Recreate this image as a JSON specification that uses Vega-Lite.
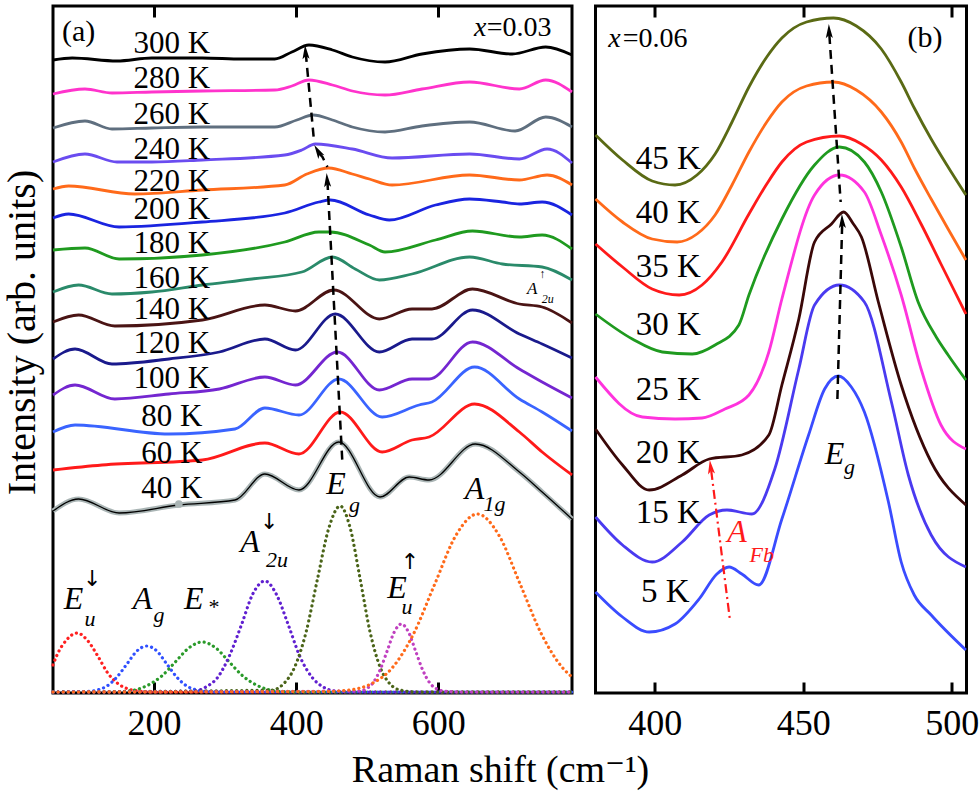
{
  "$schema": "https://vega.github.io/schema/vega-lite/v6.json",
  "background": "white",
  "padding": {"left": 0, "top": 3, "right": 0, "bottom": 0},
  "spacing": 23.5,
  "bounds": "flush",
  "config": {
    "font": "Liberation Serif, Times New Roman, DejaVu Serif, serif",
    "view": {"stroke": "black", "strokeWidth": 3},
    "axis": {"grid": false, "domain": false},
    "axisX": {"tickSize": -11, "tickWidth": 3, "tickColor": "black", "labelFontSize": 36, "labelColor": "black", "labelPadding": 24, "titleFontSize": 38, "titleFontWeight": "normal", "titleColor": "black", "titlePadding": 10, "labelFont": "Liberation Serif, Times New Roman, DejaVu Serif, serif", "titleFont": "Liberation Serif, Times New Roman, DejaVu Serif, serif"},
    "axisY": {"labels": false, "ticks": false, "titleFontSize": 40, "titleFontWeight": "normal", "titleColor": "black", "titlePadding": 11, "titleFont": "Liberation Serif, Times New Roman, DejaVu Serif, serif"},
    "text": {"font": "Liberation Serif, Times New Roman, DejaVu Serif, serif", "color": "black"}
  },
  "datasets": {
    "ac": [
      {"T":"300 K","x":58,"I":633},{"T":"300 K","x":85,"I":635},{"T":"300 K","x":148,"I":632},{"T":"300 K","x":197,"I":635},{"T":"300 K","x":268,"I":635},{"T":"300 K","x":324,"I":634},{"T":"300 K","x":370,"I":634},{"T":"300 K","x":394,"I":641},{"T":"300 K","x":418,"I":648},{"T":"300 K","x":451,"I":643},{"T":"300 K","x":479,"I":636},{"T":"300 K","x":525,"I":631},{"T":"300 K","x":577,"I":639},{"T":"300 K","x":644,"I":644},{"T":"300 K","x":704,"I":639},{"T":"300 K","x":751,"I":646},{"T":"300 K","x":788,"I":638},
      {"T":"280 K","x":58,"I":599},{"T":"280 K","x":103,"I":604},{"T":"280 K","x":141,"I":600},{"T":"280 K","x":197,"I":601},{"T":"280 K","x":268,"I":602},{"T":"280 K","x":370,"I":603},{"T":"280 K","x":394,"I":607},{"T":"280 K","x":418,"I":613},{"T":"280 K","x":451,"I":608},{"T":"280 K","x":479,"I":602},{"T":"280 K","x":525,"I":598},{"T":"280 K","x":577,"I":604},{"T":"280 K","x":644,"I":611},{"T":"280 K","x":714,"I":604},{"T":"280 K","x":751,"I":613},{"T":"280 K","x":788,"I":601},
      {"T":"260 K","x":58,"I":565},{"T":"260 K","x":103,"I":572},{"T":"260 K","x":141,"I":564},{"T":"260 K","x":197,"I":565},{"T":"260 K","x":268,"I":566},{"T":"260 K","x":370,"I":566},{"T":"260 K","x":401,"I":573},{"T":"260 K","x":424,"I":578},{"T":"260 K","x":451,"I":573},{"T":"260 K","x":479,"I":566},{"T":"260 K","x":525,"I":561},{"T":"260 K","x":577,"I":567},{"T":"260 K","x":644,"I":571},{"T":"260 K","x":708,"I":562},{"T":"260 K","x":751,"I":576},{"T":"260 K","x":788,"I":566},
      {"T":"240 K","x":58,"I":531},{"T":"240 K","x":103,"I":539},{"T":"240 K","x":148,"I":531},{"T":"240 K","x":197,"I":531},{"T":"240 K","x":268,"I":533},{"T":"240 K","x":384,"I":538},{"T":"240 K","x":408,"I":543},{"T":"240 K","x":427,"I":549},{"T":"240 K","x":479,"I":544},{"T":"240 K","x":535,"I":535},{"T":"240 K","x":644,"I":539},{"T":"240 K","x":714,"I":534},{"T":"240 K","x":753,"I":544},{"T":"240 K","x":788,"I":530},
      {"T":"220 K","x":58,"I":504},{"T":"220 K","x":80,"I":507},{"T":"220 K","x":173,"I":499},{"T":"220 K","x":268,"I":503},{"T":"220 K","x":384,"I":508},{"T":"220 K","x":415,"I":519},{"T":"220 K","x":446,"I":525},{"T":"220 K","x":479,"I":519},{"T":"220 K","x":503,"I":514},{"T":"220 K","x":535,"I":508},{"T":"220 K","x":644,"I":518},{"T":"220 K","x":714,"I":513},{"T":"220 K","x":753,"I":518},{"T":"220 K","x":788,"I":508},
      {"T":"200 K","x":58,"I":475},{"T":"200 K","x":80,"I":479},{"T":"200 K","x":151,"I":466},{"T":"200 K","x":268,"I":471},{"T":"200 K","x":384,"I":480},{"T":"200 K","x":432,"I":491},{"T":"200 K","x":448,"I":493},{"T":"200 K","x":503,"I":478},{"T":"200 K","x":531,"I":473},{"T":"200 K","x":596,"I":488},{"T":"200 K","x":644,"I":494},{"T":"200 K","x":690,"I":491},{"T":"200 K","x":714,"I":489},{"T":"200 K","x":746,"I":491},{"T":"200 K","x":788,"I":478},
      {"T":"180 K","x":58,"I":443},{"T":"180 K","x":103,"I":445},{"T":"180 K","x":151,"I":434},{"T":"180 K","x":268,"I":438},{"T":"180 K","x":384,"I":451},{"T":"180 K","x":432,"I":461},{"T":"180 K","x":448,"I":461},{"T":"180 K","x":503,"I":448},{"T":"180 K","x":525,"I":441},{"T":"180 K","x":596,"I":453},{"T":"180 K","x":648,"I":462},{"T":"180 K","x":714,"I":456},{"T":"180 K","x":746,"I":458},{"T":"180 K","x":788,"I":444},
      {"T":"160 K","x":58,"I":401},{"T":"160 K","x":94,"I":408},{"T":"160 K","x":141,"I":399},{"T":"160 K","x":197,"I":401},{"T":"160 K","x":268,"I":408},{"T":"160 K","x":338,"I":414},{"T":"160 K","x":408,"I":421},{"T":"160 K","x":451,"I":436},{"T":"160 K","x":483,"I":424},{"T":"160 K","x":517,"I":413},{"T":"160 K","x":563,"I":419},{"T":"160 K","x":644,"I":436},{"T":"160 K","x":690,"I":429},{"T":"160 K","x":746,"I":426},{"T":"160 K","x":788,"I":413},
      {"T":"140 K","x":58,"I":371},{"T":"140 K","x":94,"I":378},{"T":"140 K","x":145,"I":367},{"T":"140 K","x":268,"I":373},{"T":"140 K","x":356,"I":388},{"T":"140 K","x":399,"I":382},{"T":"140 K","x":453,"I":403},{"T":"140 K","x":517,"I":374},{"T":"140 K","x":563,"I":384},{"T":"140 K","x":591,"I":384},{"T":"140 K","x":648,"I":404},{"T":"140 K","x":714,"I":389},{"T":"140 K","x":746,"I":386},{"T":"140 K","x":788,"I":370},
      {"T":"120 K","x":58,"I":334},{"T":"120 K","x":89,"I":344},{"T":"120 K","x":141,"I":329},{"T":"120 K","x":221,"I":334},{"T":"120 K","x":292,"I":341},{"T":"120 K","x":356,"I":354},{"T":"120 K","x":399,"I":343},{"T":"120 K","x":455,"I":379},{"T":"120 K","x":517,"I":341},{"T":"120 K","x":563,"I":354},{"T":"120 K","x":591,"I":354},{"T":"120 K","x":648,"I":383},{"T":"120 K","x":714,"I":359},{"T":"120 K","x":746,"I":349},{"T":"120 K","x":788,"I":335},
      {"T":"100 K","x":58,"I":298},{"T":"100 K","x":89,"I":308},{"T":"100 K","x":145,"I":294},{"T":"100 K","x":221,"I":299},{"T":"100 K","x":292,"I":304},{"T":"100 K","x":356,"I":316},{"T":"100 K","x":399,"I":308},{"T":"100 K","x":458,"I":341},{"T":"100 K","x":517,"I":303},{"T":"100 K","x":563,"I":314},{"T":"100 K","x":587,"I":314},{"T":"100 K","x":648,"I":351},{"T":"100 K","x":714,"I":324},{"T":"100 K","x":746,"I":311},{"T":"100 K","x":788,"I":295},
      {"T":"80 K","x":58,"I":261},{"T":"80 K","x":89,"I":268},{"T":"80 K","x":221,"I":259},{"T":"80 K","x":314,"I":264},{"T":"80 K","x":356,"I":285},{"T":"80 K","x":404,"I":278},{"T":"80 K","x":460,"I":314},{"T":"80 K","x":521,"I":276},{"T":"80 K","x":573,"I":288},{"T":"80 K","x":591,"I":291},{"T":"80 K","x":651,"I":326},{"T":"80 K","x":714,"I":294},{"T":"80 K","x":746,"I":281},{"T":"80 K","x":788,"I":262},
      {"T":"60 K","x":58,"I":223},{"T":"60 K","x":127,"I":228},{"T":"60 K","x":268,"I":233},{"T":"60 K","x":356,"I":250},{"T":"60 K","x":404,"I":239},{"T":"60 K","x":462,"I":281},{"T":"60 K","x":521,"I":241},{"T":"60 K","x":563,"I":253},{"T":"60 K","x":587,"I":256},{"T":"60 K","x":651,"I":289},{"T":"60 K","x":714,"I":261},{"T":"60 K","x":746,"I":241},{"T":"60 K","x":788,"I":218},
      {"T":"40 K","x":58,"I":182},{"T":"40 K","x":94,"I":194},{"T":"40 K","x":151,"I":180},{"T":"40 K","x":235,"I":188},{"T":"40 K","x":314,"I":193},{"T":"40 K","x":356,"I":219},{"T":"40 K","x":404,"I":203},{"T":"40 K","x":460,"I":251},{"T":"40 K","x":518,"I":196},{"T":"40 K","x":559,"I":216},{"T":"40 K","x":587,"I":213},{"T":"40 K","x":652,"I":249},{"T":"40 K","x":714,"I":221},{"T":"40 K","x":746,"I":201},{"T":"40 K","x":788,"I":174}
    ],
    "am": [
      {"m":"Eu_dn","x":58,"I":28},{"m":"Eu_dn","x":63,"I":37},{"m":"Eu_dn","x":77,"I":53},{"m":"Eu_dn","x":92,"I":60},{"m":"Eu_dn","x":106,"I":53},{"m":"Eu_dn","x":121,"I":37},{"m":"Eu_dn","x":135,"I":20},{"m":"Eu_dn","x":150,"I":9},{"m":"Eu_dn","x":164,"I":4},{"m":"Eu_dn","x":179,"I":2},{"m":"Eu_dn","x":200,"I":1},{"m":"Eu_dn","x":788,"I":1},
      {"m":"Ag","x":58,"I":1},{"m":"Ag","x":106,"I":1.5},{"m":"Ag","x":120,"I":3},{"m":"Ag","x":134,"I":7},{"m":"Ag","x":148,"I":16},{"m":"Ag","x":162,"I":29},{"m":"Ag","x":176,"I":42},{"m":"Ag","x":190,"I":47},{"m":"Ag","x":204,"I":42},{"m":"Ag","x":218,"I":29},{"m":"Ag","x":232,"I":16},{"m":"Ag","x":246,"I":7},{"m":"Ag","x":260,"I":3},{"m":"Ag","x":274,"I":1.5},{"m":"Ag","x":300,"I":1},{"m":"Ag","x":788,"I":1},
      {"m":"Es","x":58,"I":1},{"m":"Es","x":154,"I":1.5},{"m":"Es","x":173,"I":3},{"m":"Es","x":192,"I":8},{"m":"Es","x":211,"I":17},{"m":"Es","x":230,"I":31},{"m":"Es","x":249,"I":45},{"m":"Es","x":268,"I":51},{"m":"Es","x":287,"I":45},{"m":"Es","x":306,"I":31},{"m":"Es","x":325,"I":17},{"m":"Es","x":344,"I":8},{"m":"Es","x":363,"I":3},{"m":"Es","x":382,"I":1.5},{"m":"Es","x":410,"I":1},{"m":"Es","x":788,"I":1},
      {"m":"A2u","x":58,"I":1},{"m":"A2u","x":257,"I":2},{"m":"A2u","x":273,"I":6},{"m":"A2u","x":290,"I":16},{"m":"A2u","x":306,"I":37},{"m":"A2u","x":323,"I":68},{"m":"A2u","x":339,"I":99},{"m":"A2u","x":356,"I":112},{"m":"A2u","x":372,"I":99},{"m":"A2u","x":389,"I":68},{"m":"A2u","x":405,"I":37},{"m":"A2u","x":422,"I":16},{"m":"A2u","x":438,"I":6},{"m":"A2u","x":455,"I":2},{"m":"A2u","x":480,"I":1},{"m":"A2u","x":788,"I":1},
      {"m":"Eg","x":58,"I":1},{"m":"Eg","x":366,"I":3},{"m":"Eg","x":382,"I":9},{"m":"Eg","x":398,"I":26},{"m":"Eg","x":414,"I":61},{"m":"Eg","x":430,"I":114},{"m":"Eg","x":446,"I":165},{"m":"Eg","x":462,"I":187},{"m":"Eg","x":476,"I":165},{"m":"Eg","x":490,"I":114},{"m":"Eg","x":504,"I":61},{"m":"Eg","x":518,"I":26},{"m":"Eg","x":532,"I":9},{"m":"Eg","x":546,"I":3},{"m":"Eg","x":570,"I":1},{"m":"Eg","x":788,"I":1},
      {"m":"Eu_up","x":58,"I":1},{"m":"Eu_up","x":488,"I":2},{"m":"Eu_up","x":498,"I":4},{"m":"Eu_up","x":508,"I":10},{"m":"Eu_up","x":518,"I":23},{"m":"Eu_up","x":528,"I":42},{"m":"Eu_up","x":538,"I":61},{"m":"Eu_up","x":548,"I":69},{"m":"Eu_up","x":558,"I":61},{"m":"Eu_up","x":568,"I":42},{"m":"Eu_up","x":578,"I":23},{"m":"Eu_up","x":588,"I":10},{"m":"Eu_up","x":598,"I":4},{"m":"Eu_up","x":608,"I":2},{"m":"Eu_up","x":630,"I":1},{"m":"Eu_up","x":788,"I":1},
      {"m":"A1g","x":58,"I":1},{"m":"A1g","x":440,"I":1.5},{"m":"A1g","x":475,"I":3},{"m":"A1g","x":505,"I":9},{"m":"A1g","x":535,"I":25},{"m":"A1g","x":565,"I":59},{"m":"A1g","x":595,"I":109},{"m":"A1g","x":625,"I":158},{"m":"A1g","x":655,"I":179},{"m":"A1g","x":685,"I":158},{"m":"A1g","x":715,"I":109},{"m":"A1g","x":745,"I":59},{"m":"A1g","x":775,"I":25},{"m":"A1g","x":788,"I":16}
    ],
    "aa": [
      {"s":"1","x":465,"I":231},{"s":"1","x":444,"I":512},
      {"s":"2","x":444,"I":526},{"s":"2","x":437,"I":536},{"s":"2","x":432,"I":540},
      {"s":"3","x":425,"I":553},{"s":"3","x":413.5,"I":640}
    ],
    "aah": [
      {"s":"1","x":443.6,"I":513},{"s":"2","x":430.5,"I":542},{"s":"3","x":413.2,"I":641}
    ],
    "at": [
      {"t":"300 K","x":225,"I":649},{"t":"280 K","x":225,"I":614},{"t":"260 K","x":225,"I":578},{"t":"240 K","x":225,"I":543},{"t":"220 K","x":225,"I":511},{"t":"200 K","x":225,"I":483},{"t":"180 K","x":225,"I":449},{"t":"160 K","x":225,"I":414},{"t":"140 K","x":225,"I":383},{"t":"120 K","x":225,"I":349},{"t":"100 K","x":225,"I":314},{"t":"80 K","x":225,"I":276},{"t":"60 K","x":225,"I":239},{"t":"40 K","x":225,"I":204}
    ],
    "abig": [
      {"t":"E","x":87,"I":94},{"t":"A","x":184,"I":94},{"t":"E","x":256,"I":94},{"t":"A","x":335,"I":151},{"t":"E","x":456,"I":209},{"t":"A","x":651,"I":204},{"t":"E","x":542,"I":105}
    ],
    "asub": [
      {"t":"u","x":110,"I":74},{"t":"g","x":207,"I":78},{"t":"*","x":283,"I":86},{"t":"2u","x":373,"I":133},{"t":"g","x":482,"I":188},{"t":"1g","x":679,"I":189},{"t":"u","x":556,"I":86}
    ],
    "aarr": [
      {"t":"↓","x":113,"I":114},{"t":"↓","x":362,"I":171},{"t":"↑","x":560,"I":131}
    ],
    "bc": [
      {"K":"45 K","x":380,"I":558},{"K":"45 K","x":389.1,"I":533},{"K":"45 K","x":399.1,"I":512},{"K":"45 K","x":406.8,"I":508},{"K":"45 K","x":414.2,"I":518},{"K":"45 K","x":420.3,"I":539},{"K":"45 K","x":426,"I":571},{"K":"45 K","x":431.7,"I":606},{"K":"45 K","x":437.7,"I":636},{"K":"45 K","x":442.8,"I":655},{"K":"45 K","x":451.1,"I":671},{"K":"45 K","x":460.2,"I":675},{"K":"45 K","x":467.9,"I":667},{"K":"45 K","x":476.3,"I":644},{"K":"45 K","x":483,"I":611},{"K":"45 K","x":487.4,"I":585},{"K":"45 K","x":493.1,"I":554},{"K":"45 K","x":498.8,"I":526},{"K":"45 K","x":504.8,"I":498},
      {"K":"40 K","x":380,"I":494},{"K":"40 K","x":389.1,"I":471},{"K":"40 K","x":399.1,"I":454},{"K":"40 K","x":407.5,"I":451},{"K":"40 K","x":414.2,"I":459},{"K":"40 K","x":420.3,"I":478},{"K":"40 K","x":426,"I":508},{"K":"40 K","x":431.7,"I":541},{"K":"40 K","x":437.7,"I":571},{"K":"40 K","x":442.8,"I":591},{"K":"40 K","x":451.1,"I":607},{"K":"40 K","x":460.2,"I":611},{"K":"40 K","x":467.9,"I":603},{"K":"40 K","x":476.3,"I":581},{"K":"40 K","x":483,"I":551},{"K":"40 K","x":487.4,"I":525},{"K":"40 K","x":493.1,"I":494},{"K":"40 K","x":498.8,"I":464},{"K":"40 K","x":504.8,"I":433},
      {"K":"35 K","x":380,"I":449},{"K":"35 K","x":389.1,"I":426},{"K":"35 K","x":399.1,"I":404},{"K":"35 K","x":408.2,"I":398},{"K":"35 K","x":415.9,"I":408},{"K":"35 K","x":422.6,"I":431},{"K":"35 K","x":431.7,"I":479},{"K":"35 K","x":437.7,"I":509},{"K":"35 K","x":442.8,"I":531},{"K":"35 K","x":451.1,"I":551},{"K":"35 K","x":462.2,"I":557},{"K":"35 K","x":469.6,"I":549},{"K":"35 K","x":476.3,"I":533},{"K":"35 K","x":483,"I":506},{"K":"35 K","x":489.7,"I":469},{"K":"35 K","x":496.4,"I":429},{"K":"35 K","x":504.8,"I":379},
      {"K":"30 K","x":380,"I":379},{"K":"30 K","x":392.4,"I":354},{"K":"30 K","x":402.5,"I":341},{"K":"30 K","x":412.6,"I":339},{"K":"30 K","x":420.3,"I":348},{"K":"30 K","x":428.3,"I":368},{"K":"30 K","x":431.7,"I":398},{"K":"30 K","x":442.8,"I":474},{"K":"30 K","x":453.8,"I":528},{"K":"30 K","x":462.2,"I":546},{"K":"30 K","x":470.6,"I":531},{"K":"30 K","x":476.3,"I":501},{"K":"30 K","x":483,"I":446},{"K":"30 K","x":488.7,"I":391},{"K":"30 K","x":494.8,"I":356},{"K":"30 K","x":498.8,"I":338},{"K":"30 K","x":504.8,"I":313},
      {"K":"25 K","x":380,"I":316},{"K":"25 K","x":395.8,"I":276},{"K":"25 K","x":406.8,"I":274},{"K":"25 K","x":415.9,"I":275},{"K":"25 K","x":423.6,"I":284},{"K":"25 K","x":431.7,"I":298},{"K":"25 K","x":438.4,"I":341},{"K":"25 K","x":442.8,"I":394},{"K":"25 K","x":453.8,"I":498},{"K":"25 K","x":462.2,"I":518},{"K":"25 K","x":470.6,"I":501},{"K":"25 K","x":476.3,"I":458},{"K":"25 K","x":483,"I":398},{"K":"25 K","x":489.7,"I":324},{"K":"25 K","x":496.4,"I":268},{"K":"25 K","x":504.8,"I":244},
      {"K":"20 K","x":380,"I":264},{"K":"20 K","x":389.1,"I":228},{"K":"20 K","x":398.1,"I":203},{"K":"20 K","x":409.2,"I":218},{"K":"20 K","x":418.3,"I":234},{"K":"20 K","x":429.3,"I":238},{"K":"20 K","x":438.4,"I":258},{"K":"20 K","x":442.8,"I":308},{"K":"20 K","x":448.5,"I":374},{"K":"20 K","x":453.8,"I":451},{"K":"20 K","x":459.5,"I":469},{"K":"20 K","x":463.6,"I":481},{"K":"20 K","x":466.9,"I":469},{"K":"20 K","x":469.6,"I":456},{"K":"20 K","x":475.3,"I":391},{"K":"20 K","x":483,"I":308},{"K":"20 K","x":493.1,"I":231},{"K":"20 K","x":504.8,"I":188},
      {"K":"15 K","x":380,"I":176},{"K":"15 K","x":389.1,"I":148},{"K":"15 K","x":399.1,"I":131},{"K":"15 K","x":409.2,"I":151},{"K":"15 K","x":418.3,"I":178},{"K":"15 K","x":424.3,"I":183},{"K":"15 K","x":432.7,"I":179},{"K":"15 K","x":440.4,"I":224},{"K":"15 K","x":448.5,"I":324},{"K":"15 K","x":453.8,"I":388},{"K":"15 K","x":462.2,"I":408},{"K":"15 K","x":470.6,"I":391},{"K":"15 K","x":479.7,"I":291},{"K":"15 K","x":485.4,"I":218},{"K":"15 K","x":493.1,"I":158},{"K":"15 K","x":504.8,"I":126},
      {"K":"5 K","x":380,"I":101},{"K":"5 K","x":389.1,"I":76},{"K":"5 K","x":398.1,"I":61},{"K":"5 K","x":406.8,"I":69},{"K":"5 K","x":414.9,"I":94},{"K":"5 K","x":420.9,"I":119},{"K":"5 K","x":425,"I":126},{"K":"5 K","x":429.3,"I":119},{"K":"5 K","x":435,"I":108},{"K":"5 K","x":442.8,"I":174},{"K":"5 K","x":451.8,"I":258},{"K":"5 K","x":457.2,"I":304},{"K":"5 K","x":461.9,"I":317},{"K":"5 K","x":466.2,"I":306},{"K":"5 K","x":470.6,"I":281},{"K":"5 K","x":478.7,"I":191},{"K":"5 K","x":483,"I":131},{"K":"5 K","x":487.4,"I":98},{"K":"5 K","x":493.1,"I":78},{"K":"5 K","x":504.8,"I":43}
    ],
    "ba": [
      {"s":"1","x":461.5,"I":294},{"s":"1","x":463.1,"I":468},
      {"s":"2","x":462.6,"I":491},{"s":"2","x":458.8,"I":658}
    ],
    "bah": [
      {"s":"1","x":463.1,"I":472},{"s":"2","x":458.7,"I":662}
    ],
    "br": [
      {"s":"r","x":425.3,"I":73},{"s":"r","x":419,"I":222}
    ],
    "brh": [
      {"s":"r","x":418.8,"I":226}
    ],
    "bt": [
      {"t":"45 K","x":404.5,"I":534},{"t":"40 K","x":404.5,"I":480},{"t":"35 K","x":404.5,"I":426},{"t":"30 K","x":404.5,"I":368},{"t":"25 K","x":404.5,"I":303},{"t":"20 K","x":404.5,"I":240},{"t":"15 K","x":404.5,"I":180},{"t":"5 K","x":403.5,"I":101}
    ]
  },
  "resolve": {"scale": {"x": "independent", "y": "independent", "color": "independent", "stroke": "independent"}},
  "hconcat": [
    {
      "width": 519,
      "height": 687,
      "resolve": {"axis": {"x": "independent"}},
      "layer": [
        {
          "data": {"name": "ac"},
          "transform": [{"filter": "datum.T != '40 K'"}],
          "mark": {"type": "line", "interpolate": "monotone", "strokeWidth": 2.8},
          "encoding": {
            "x": {"field": "x", "type": "quantitative", "scale": {"domain": [58, 788], "nice": false, "zero": false},
                  "axis": {"orient": "bottom", "values": [200, 400, 600], "title": "Raman shift (cm⁻¹)", "titleX": 447, "titleAlign": "center"}},
            "y": {"field": "I", "type": "quantitative", "scale": {"domain": [0, 687], "nice": false, "zero": false},
                  "axis": {"title": "Intensity (arb. units)", "titleY": 326}},
            "color": {"field": "T", "type": "nominal", "legend": null,
                      "scale": {"domain": ["300 K","280 K","260 K","240 K","220 K","200 K","180 K","160 K","140 K","120 K","100 K","80 K","60 K"],
                                "range": ["#000000","#ff33cc","#5f6f7f","#6a4cf0","#ff6a1a","#1a24e0","#1f9a1f","#2a8a6a","#4a1414","#1a1a8c","#7426d0","#3a64ff","#ff1a1a"]}}
          }
        },
        {
          "data": {"name": "ac"},
          "transform": [{"filter": "datum.T == '40 K'"}],
          "mark": {"type": "line", "interpolate": "monotone", "strokeWidth": 5, "color": "#aab5b5"},
          "encoding": {
            "x": {"field": "x", "type": "quantitative", "axis": {"orient": "top", "values": [200, 400, 600], "labels": false, "title": null}},
            "y": {"field": "I", "type": "quantitative"}
          }
        },
        {
          "data": {"name": "ac"},
          "transform": [{"filter": "datum.T == '40 K'"}],
          "mark": {"type": "line", "interpolate": "monotone", "strokeWidth": 1.3, "color": "#000000"},
          "encoding": {
            "x": {"field": "x", "type": "quantitative", "axis": null},
            "y": {"field": "I", "type": "quantitative"}
          }
        },
        {
          "data": {"values": [{"x": 235, "I": 189}]},
          "mark": {"type": "point", "filled": true, "size": 60, "color": "#aab5b5", "opacity": 1},
          "encoding": {
            "x": {"field": "x", "type": "quantitative", "axis": null},
            "y": {"field": "I", "type": "quantitative"}
          }
        },
        {
          "data": {"name": "am"},
          "mark": {"type": "line", "interpolate": "monotone", "strokeWidth": 3.2, "strokeDash": [0.1, 5], "strokeCap": "round"},
          "encoding": {
            "x": {"field": "x", "type": "quantitative", "axis": null},
            "y": {"field": "I", "type": "quantitative"},
            "stroke": {"field": "m", "type": "nominal", "legend": null,
                       "scale": {"domain": ["Eu_dn","Ag","Es","A2u","Eg","Eu_up","A1g"],
                                 "range": ["#ff2020","#3050ff","#2a9a2a","#6020d0","#4a6418","#c040c0","#ff6a1a"]}}
          }
        },
        {
          "data": {"name": "aa"},
          "mark": {"type": "line", "strokeWidth": 2.5, "strokeDash": [9, 6], "color": "black"},
          "encoding": {
            "x": {"field": "x", "type": "quantitative", "axis": null},
            "y": {"field": "I", "type": "quantitative"},
            "detail": {"field": "s"}
          }
        },
        {
          "data": {"name": "aah"},
          "transform": [{"filter": "datum.s != '2'"}],
          "mark": {"type": "point", "shape": "M0,-1L0.5,1L0,0.55L-0.5,1Z", "filled": true, "size": 200, "color": "black", "opacity": 1, "angle": -4},
          "encoding": {
            "x": {"field": "x", "type": "quantitative", "axis": null},
            "y": {"field": "I", "type": "quantitative"}
          }
        },
        {
          "data": {"name": "aah"},
          "transform": [{"filter": "datum.s == '2'"}],
          "mark": {"type": "point", "shape": "M0,-1L0.5,1L0,0.55L-0.5,1Z", "filled": true, "size": 200, "color": "black", "opacity": 1, "angle": -30},
          "encoding": {
            "x": {"field": "x", "type": "quantitative", "axis": null},
            "y": {"field": "I", "type": "quantitative"}
          }
        },
        {
          "data": {"name": "at"},
          "mark": {"type": "text", "fontSize": 31, "align": "center", "baseline": "middle"},
          "encoding": {
            "x": {"field": "x", "type": "quantitative", "axis": null},
            "y": {"field": "I", "type": "quantitative"},
            "text": {"field": "t"}
          }
        },
        {
          "data": {"name": "abig"},
          "mark": {"type": "text", "fontSize": 32, "fontStyle": "italic", "align": "center", "baseline": "middle"},
          "encoding": {
            "x": {"field": "x", "type": "quantitative", "axis": null},
            "y": {"field": "I", "type": "quantitative"},
            "text": {"field": "t"}
          }
        },
        {
          "data": {"name": "asub"},
          "mark": {"type": "text", "fontSize": 22, "fontStyle": "italic", "align": "center", "baseline": "middle"},
          "encoding": {
            "x": {"field": "x", "type": "quantitative", "axis": null},
            "y": {"field": "I", "type": "quantitative"},
            "text": {"field": "t"}
          }
        },
        {
          "data": {"name": "aarr"},
          "mark": {"type": "text", "fontSize": 22, "align": "center", "baseline": "middle", "font": "DejaVu Sans"},
          "encoding": {
            "x": {"field": "x", "type": "quantitative", "axis": null},
            "y": {"field": "I", "type": "quantitative"},
            "text": {"field": "t"}
          }
        },
        {
          "data": {"values": [{"t": "A", "x": 732, "I": 404}]},
          "mark": {"type": "text", "fontSize": 17, "fontStyle": "italic", "align": "center", "baseline": "middle"},
          "encoding": {
            "x": {"field": "x", "type": "quantitative", "axis": null},
            "y": {"field": "I", "type": "quantitative"},
            "text": {"field": "t"}
          }
        },
        {
          "data": {"values": [{"t": "2u", "x": 754, "I": 394}, {"t": "↑", "x": 746, "I": 419}]},
          "mark": {"type": "text", "fontSize": 12, "fontStyle": "italic", "align": "center", "baseline": "middle"},
          "encoding": {
            "x": {"field": "x", "type": "quantitative", "axis": null},
            "y": {"field": "I", "type": "quantitative"},
            "text": {"field": "t"}
          }
        },
        {
          "data": {"values": [{"t": "(a)", "x": 94, "I": 661}]},
          "mark": {"type": "text", "fontSize": 30, "align": "center", "baseline": "middle"},
          "encoding": {
            "x": {"field": "x", "type": "quantitative", "axis": null},
            "y": {"field": "I", "type": "quantitative"},
            "text": {"field": "t"}
          }
        },
        {
          "data": {"values": [{"t": "x", "x": 659, "I": 665}]},
          "mark": {"type": "text", "fontSize": 28, "fontStyle": "italic", "align": "center", "baseline": "middle"},
          "encoding": {
            "x": {"field": "x", "type": "quantitative", "axis": null},
            "y": {"field": "I", "type": "quantitative"},
            "text": {"field": "t"}
          }
        },
        {
          "data": {"values": [{"t": "=0.03", "x": 668, "I": 665}]},
          "mark": {"type": "text", "fontSize": 28, "align": "left", "baseline": "middle"},
          "encoding": {
            "x": {"field": "x", "type": "quantitative", "axis": null},
            "y": {"field": "I", "type": "quantitative"},
            "text": {"field": "t"}
          }
        }
      ]
    },
    {
      "width": 371,
      "height": 687,
      "resolve": {"axis": {"x": "independent"}},
      "layer": [
        {
          "data": {"name": "bc"},
          "mark": {"type": "line", "interpolate": "monotone", "strokeWidth": 2.8},
          "encoding": {
            "x": {"field": "x", "type": "quantitative", "scale": {"domain": [380, 505], "nice": false, "zero": false},
                  "axis": {"orient": "bottom", "values": [400, 450, 500], "title": null}},
            "y": {"field": "I", "type": "quantitative", "scale": {"domain": [0, 687], "nice": false, "zero": false}, "axis": null},
            "color": {"field": "K", "type": "nominal", "legend": null,
                      "scale": {"domain": ["45 K","40 K","35 K","30 K","25 K","20 K","15 K","5 K"],
                                "range": ["#5a6a14","#ff6a1a","#ff1a1a","#1f9a1f","#ff33dd","#3a0808","#4a3af0","#3a4cff"]}}
          }
        },
        {
          "data": {"name": "ba"},
          "mark": {"type": "line", "strokeWidth": 2.5, "strokeDash": [9, 6], "color": "black"},
          "encoding": {
            "x": {"field": "x", "type": "quantitative", "axis": {"orient": "top", "values": [400, 450, 500], "labels": false, "title": null}},
            "y": {"field": "I", "type": "quantitative", "axis": null},
            "detail": {"field": "s"}
          }
        },
        {
          "data": {"name": "bah"},
          "mark": {"type": "point", "shape": "M0,-1L0.5,1L0,0.55L-0.5,1Z", "filled": true, "size": 200, "color": "black", "opacity": 1, "angle": -2},
          "encoding": {
            "x": {"field": "x", "type": "quantitative", "axis": null},
            "y": {"field": "I", "type": "quantitative", "axis": null}
          }
        },
        {
          "data": {"name": "br"},
          "mark": {"type": "line", "strokeWidth": 2.2, "strokeDash": [9, 4, 2, 4], "color": "#ff1a1a"},
          "encoding": {
            "x": {"field": "x", "type": "quantitative", "axis": null},
            "y": {"field": "I", "type": "quantitative", "axis": null}
          }
        },
        {
          "data": {"name": "brh"},
          "mark": {"type": "point", "shape": "M0,-1L0.5,1L0,0.55L-0.5,1Z", "filled": true, "size": 200, "color": "#ff1a1a", "opacity": 1, "angle": -7},
          "encoding": {
            "x": {"field": "x", "type": "quantitative", "axis": null},
            "y": {"field": "I", "type": "quantitative", "axis": null}
          }
        },
        {
          "data": {"name": "bt"},
          "mark": {"type": "text", "fontSize": 33, "align": "center", "baseline": "middle"},
          "encoding": {
            "x": {"field": "x", "type": "quantitative", "axis": null},
            "y": {"field": "I", "type": "quantitative", "axis": null},
            "text": {"field": "t"}
          }
        },
        {
          "data": {"values": [{"t": "E", "x": 460.5, "I": 239}]},
          "mark": {"type": "text", "fontSize": 32, "fontStyle": "italic", "align": "center", "baseline": "middle"},
          "encoding": {
            "x": {"field": "x", "type": "quantitative", "axis": null},
            "y": {"field": "I", "type": "quantitative", "axis": null},
            "text": {"field": "t"}
          }
        },
        {
          "data": {"values": [{"t": "g", "x": 465.6, "I": 226}]},
          "mark": {"type": "text", "fontSize": 22, "fontStyle": "italic", "align": "center", "baseline": "middle"},
          "encoding": {
            "x": {"field": "x", "type": "quantitative", "axis": null},
            "y": {"field": "I", "type": "quantitative", "axis": null},
            "text": {"field": "t"}
          }
        },
        {
          "data": {"values": [{"t": "A", "x": 427.7, "I": 161}]},
          "mark": {"type": "text", "fontSize": 32, "fontStyle": "italic", "align": "center", "baseline": "middle", "color": "#ff1a1a"},
          "encoding": {
            "x": {"field": "x", "type": "quantitative", "axis": null},
            "y": {"field": "I", "type": "quantitative", "axis": null},
            "text": {"field": "t"}
          }
        },
        {
          "data": {"values": [{"t": "Fb", "x": 436, "I": 138}]},
          "mark": {"type": "text", "fontSize": 22, "fontStyle": "italic", "align": "center", "baseline": "middle", "color": "#ff1a1a"},
          "encoding": {
            "x": {"field": "x", "type": "quantitative", "axis": null},
            "y": {"field": "I", "type": "quantitative", "axis": null},
            "text": {"field": "t"}
          }
        },
        {
          "data": {"values": [{"t": "(b)", "x": 491, "I": 655}]},
          "mark": {"type": "text", "fontSize": 30, "align": "center", "baseline": "middle"},
          "encoding": {
            "x": {"field": "x", "type": "quantitative", "axis": null},
            "y": {"field": "I", "type": "quantitative", "axis": null},
            "text": {"field": "t"}
          }
        },
        {
          "data": {"values": [{"t": "x", "x": 386.4, "I": 654}]},
          "mark": {"type": "text", "fontSize": 28, "fontStyle": "italic", "align": "center", "baseline": "middle"},
          "encoding": {
            "x": {"field": "x", "type": "quantitative", "axis": null},
            "y": {"field": "I", "type": "quantitative", "axis": null},
            "text": {"field": "t"}
          }
        },
        {
          "data": {"values": [{"t": "=0.06", "x": 389.2, "I": 654}]},
          "mark": {"type": "text", "fontSize": 28, "align": "left", "baseline": "middle"},
          "encoding": {
            "x": {"field": "x", "type": "quantitative", "axis": null},
            "y": {"field": "I", "type": "quantitative", "axis": null},
            "text": {"field": "t"}
          }
        }
      ]
    }
  ]
}
